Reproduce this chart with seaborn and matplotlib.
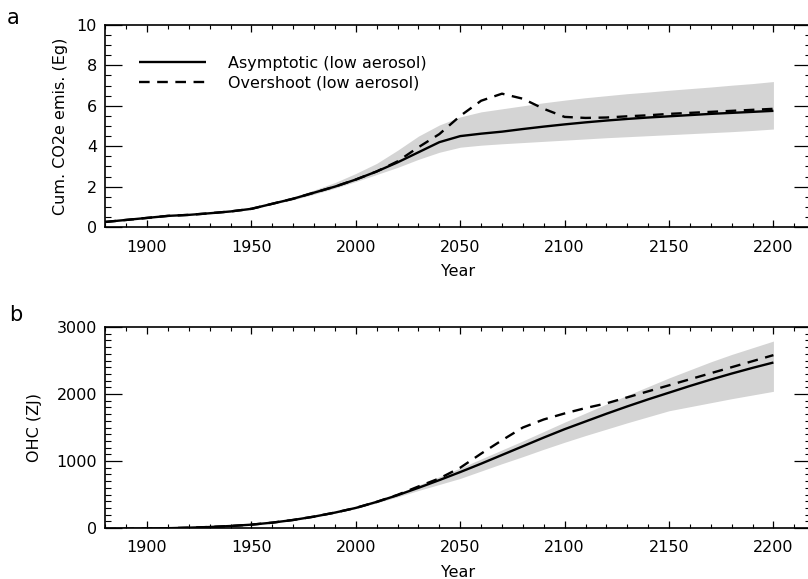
import numpy as np
import pandas as pd
import matplotlib
matplotlib.use("Agg")
import matplotlib.pyplot as plt
import seaborn as sns
from matplotlib.ticker import MultipleLocator

years = list(range(1880, 2201, 10))

# Panel a: cumulative CO2e emissions (Eg)
emis_asym = [0.25, 0.35, 0.45, 0.55, 0.6, 0.68, 0.77, 0.9, 1.15, 1.4, 1.7, 2.0, 2.35, 2.75,
             3.2, 3.7, 4.2, 4.5, 4.62, 4.72, 4.85, 4.97, 5.08, 5.18, 5.27, 5.35, 5.42,
             5.48, 5.54, 5.6, 5.65, 5.7, 5.75]
emis_over = [0.25, 0.35, 0.45, 0.55, 0.6, 0.68, 0.77, 0.9, 1.15, 1.4, 1.7, 2.0, 2.35, 2.75,
             3.25, 3.95, 4.6, 5.5, 6.25, 6.6, 6.35, 5.85, 5.45, 5.4, 5.42, 5.48, 5.53,
             5.6, 5.65, 5.7, 5.75, 5.8, 5.85]
emis_lo = [0.25, 0.35, 0.45, 0.55, 0.6, 0.68, 0.76, 0.88, 1.12, 1.35, 1.62, 1.92, 2.25, 2.6,
           2.95, 3.35, 3.7, 3.95, 4.05, 4.12, 4.18, 4.24, 4.3, 4.36, 4.42, 4.47, 4.52,
           4.57, 4.62, 4.67, 4.72, 4.78, 4.85]
emis_hi = [0.25, 0.35, 0.45, 0.55, 0.6, 0.68, 0.78, 0.92, 1.18, 1.48, 1.83, 2.2, 2.65, 3.15,
           3.8, 4.5, 5.05, 5.45, 5.7, 5.85, 6.0, 6.15, 6.28, 6.4, 6.5, 6.6, 6.68,
           6.77, 6.85, 6.93, 7.02, 7.1, 7.2]

# Panel b: ocean heat content (ZJ)
ohc_asym = [-15, -12, -8, -3, 5, 15, 30, 50, 80, 120, 170, 230, 300, 390,
            490, 600, 715, 835, 960, 1090, 1220, 1350, 1475, 1590, 1705, 1815, 1920,
            2020, 2120, 2215, 2305, 2390, 2470]
ohc_over = [-15, -12, -8, -3, 5, 15, 30, 50, 80, 120, 170, 230, 300, 390,
            495, 620, 740, 900, 1110, 1310, 1500, 1620, 1710, 1790, 1860, 1950, 2040,
            2130, 2220, 2310, 2400, 2490, 2580]
ohc_lo = [-15, -12, -8, -3, 5, 15, 30, 50, 80, 118, 165, 222, 290, 375,
          465, 560, 650, 740, 850, 960, 1065, 1175, 1280, 1380, 1475, 1570, 1660,
          1750, 1810, 1870, 1930, 1985, 2040]
ohc_hi = [-15, -12, -8, -3, 5, 15, 30, 50, 80, 122, 175, 238, 310, 405,
          515, 640, 765, 895, 1030, 1165, 1300, 1440, 1580, 1715, 1850, 1980, 2110,
          2240, 2360, 2480, 2590, 2690, 2790]

series_labels = ["Asymptotic (low aerosol)", "Overshoot (low aerosol)"]

sns.set_style("ticks")
plt.rcParams['font.family'] = ['DejaVu Sans']
plt.rcParams['text.color'] = 'black'
plt.rcParams['axes.labelcolor'] = 'black'
plt.rcParams['xtick.color'] = 'black'
plt.rcParams['ytick.color'] = 'black'

fig = plt.figure(figsize=(8.08, 5.79), dpi=100)
left = 105.3 / 808
width = (811 - 105.3) / 808
ax1 = fig.add_axes([left, 1 - 227 / 579, width, 202 / 579])
ax2 = fig.add_axes([left, 1 - 528 / 579, width, 201 / 579])

fs = 11.5

def draw(ax, asym, over, lo, hi):
    df = pd.DataFrame({"Year": years * 2,
                       "value": list(asym) + list(over),
                       "series": [series_labels[0]] * len(years) + [series_labels[1]] * len(years)})
    ax.fill_between(years, lo, hi, color="#d4d4d4", lw=0, zorder=1)
    sns.lineplot(data=df, x="Year", y="value", hue="series", style="series",
                 palette=["black", "black"], dashes=[(1, 0), (4.5, 3.2)],
                 linewidth=1.7, ax=ax, zorder=3, legend=True)
    ax.set_xlim(1880, 2218)
    ax.xaxis.set_major_locator(MultipleLocator(50))
    ax.xaxis.set_minor_locator(MultipleLocator(10))
    ax.tick_params(axis="x", which="major", direction="in", length=5, width=0.9,
                   top=True, bottom=True, labelsize=fs, pad=9, colors="black")
    ax.tick_params(axis="x", which="minor", direction="in", length=3, width=0.8,
                   top=True, bottom=True, colors="black")
    ax.tick_params(axis="y", which="major", direction="in", length=12, width=0.9,
                   left=True, right=True, labelsize=fs, pad=6, colors="black")
    ax.tick_params(axis="y", which="minor", direction="in", length=4, width=0.8,
                   left=True, right=True, colors="black")
    for s in ax.spines.values():
        s.set_visible(True)
        s.set_linewidth(1.2)
        s.set_color("black")
    ax.set_xlabel("Year", fontsize=fs, labelpad=7, color="black")

draw(ax1, emis_asym, emis_over, emis_lo, emis_hi)
ax1.set_ylim(0, 10)
ax1.yaxis.set_major_locator(MultipleLocator(2))
ax1.yaxis.set_minor_locator(MultipleLocator(0.5))
ax1.set_ylabel("Cum. CO2e emis. (Eg)", fontsize=fs, labelpad=6, color="black")
leg = ax1.legend(loc="upper left", bbox_to_anchor=(0.038, 0.88), frameon=False,
                 fontsize=fs, handlelength=4.2, handletextpad=1.4, labelspacing=0.3,
                 borderaxespad=0)
for t in leg.get_texts():
    t.set_color("black")
ax1.text(-0.14, 1.035, "a", transform=ax1.transAxes, fontsize=15, ha="left", va="center",
         color="black")

draw(ax2, ohc_asym, ohc_over, ohc_lo, ohc_hi)
ax2.set_ylim(0, 3000)
ax2.yaxis.set_major_locator(MultipleLocator(1000))
ax2.yaxis.set_minor_locator(MultipleLocator(100))
ax2.set_ylabel("OHC (ZJ)", fontsize=fs, labelpad=10, color="black")
ax2.get_legend().remove()
ax2.text(-0.136, 1.06, "b", transform=ax2.transAxes, fontsize=15, ha="left", va="center",
         color="black")

fig.savefig("out.png", dpi=100)
